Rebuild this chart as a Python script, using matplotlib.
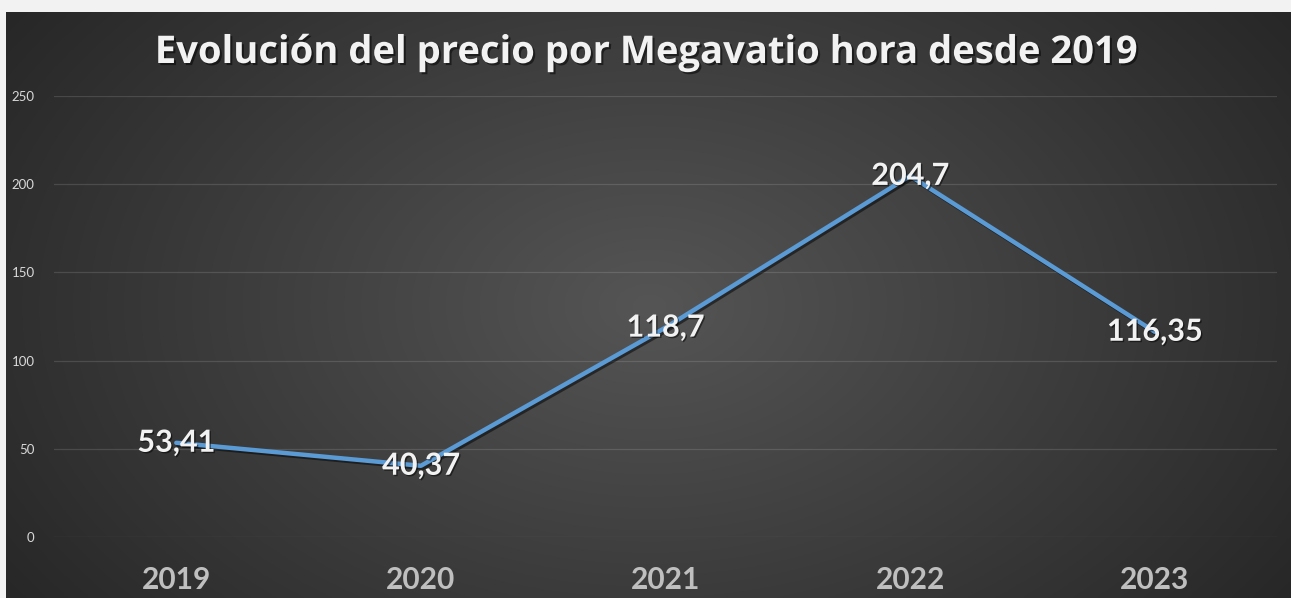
import numpy as np
import matplotlib
matplotlib.use("Agg")
import matplotlib.pyplot as plt
import matplotlib.patheffects as pe

years = ["2019", "2020", "2021", "2022", "2023"]
prices = [53.41, 40.37, 118.7, 204.7, 116.35]
labels = ["53,41", "40,37", "118,7", "204,7", "116,35"]
yticks = [0, 50, 100, 150, 200, 250]
title = "Evolución del precio por Megavatio hora desde 2019"

W, H = 1291, 598
fig = plt.figure(figsize=(W / 100, H / 100), dpi=100, facecolor="#f2f2f2")

# background panel with radial gradient
bx0, by0 = 6 / W, 0
bg = fig.add_axes([bx0, by0, 1 - bx0, (H - 12) / H])
bg.set_axis_off()
ny, nx = 300, 640
yy, xx = np.mgrid[0:ny, 0:nx]
cx, cy = nx * 0.5, ny * 0.5
r = np.sqrt(((xx - cx) / (nx * 0.62)) ** 2 + ((yy - cy) / (ny * 0.9)) ** 2)
r = np.clip(r, 0, 1)
c_in = np.array([0x55, 0x55, 0x55]) / 255
c_out = np.array([0x26, 0x26, 0x26]) / 255
img = c_in[None, None, :] * (1 - r[..., None]) + c_out[None, None, :] * r[..., None]
bg.imshow(img, aspect="auto", extent=[0, 1, 0, 1], interpolation="bilinear")
bg.set_xlim(0, 1)
bg.set_ylim(0, 1)

plt.rcParams["font.family"] = ["Lato", "DejaVu Sans"]

ax_l, ax_r = 54 / W, 1277 / W
ax_b, ax_t = (H - 537) / H, (H - 96) / H
ax = fig.add_axes([ax_l, ax_b, ax_r - ax_l, ax_t - ax_b])
ax.patch.set_alpha(0)
x = np.arange(len(years))
ax.set_xlim(-0.5, len(years) - 0.5)
ax.set_ylim(0, 250)
ax.set_yticks(yticks)
ax.set_yticklabels([str(v) for v in yticks], color="#d9d9d9", fontsize=9.5)
ax.set_xticks(x)
ax.set_xticklabels(years, color="#bfbfbf", fontsize=21.5, fontweight="bold")
ax.tick_params(axis="x", length=0, pad=21)
ax.tick_params(axis="y", length=0, pad=14)
for s in ax.spines.values():
    s.set_visible(False)
ax.grid(axis="y", color="#ffffff", alpha=0.13, lw=0.9)
ax.set_axisbelow(True)

ax.plot(x, prices, color="#5b9bd5", lw=3.2, solid_capstyle="round",
        path_effects=[pe.SimpleLineShadow(offset=(1.5, -1.5), shadow_color="black", alpha=0.5),
                      pe.Normal()])

for xi, v, lab in zip(x, prices, labels):
    ax.text(xi, v, lab, ha="center", va="center", color="#f2f2f2", fontsize=22,
            fontweight="bold",
            path_effects=[pe.withSimplePatchShadow(offset=(1, -1), shadow_rgbFace="black", alpha=0.5)])

fig.text(0.5015, 1 - 53 / H, title, ha="center", va="center", color="#f2f2f2",
         fontsize=27.5, fontweight="bold", family=["Open Sans", "DejaVu Sans"],
         path_effects=[pe.withSimplePatchShadow(offset=(1.5, -1.5), shadow_rgbFace="black", alpha=0.5)])

fig.savefig("out.png", dpi=100, facecolor=fig.get_facecolor())
